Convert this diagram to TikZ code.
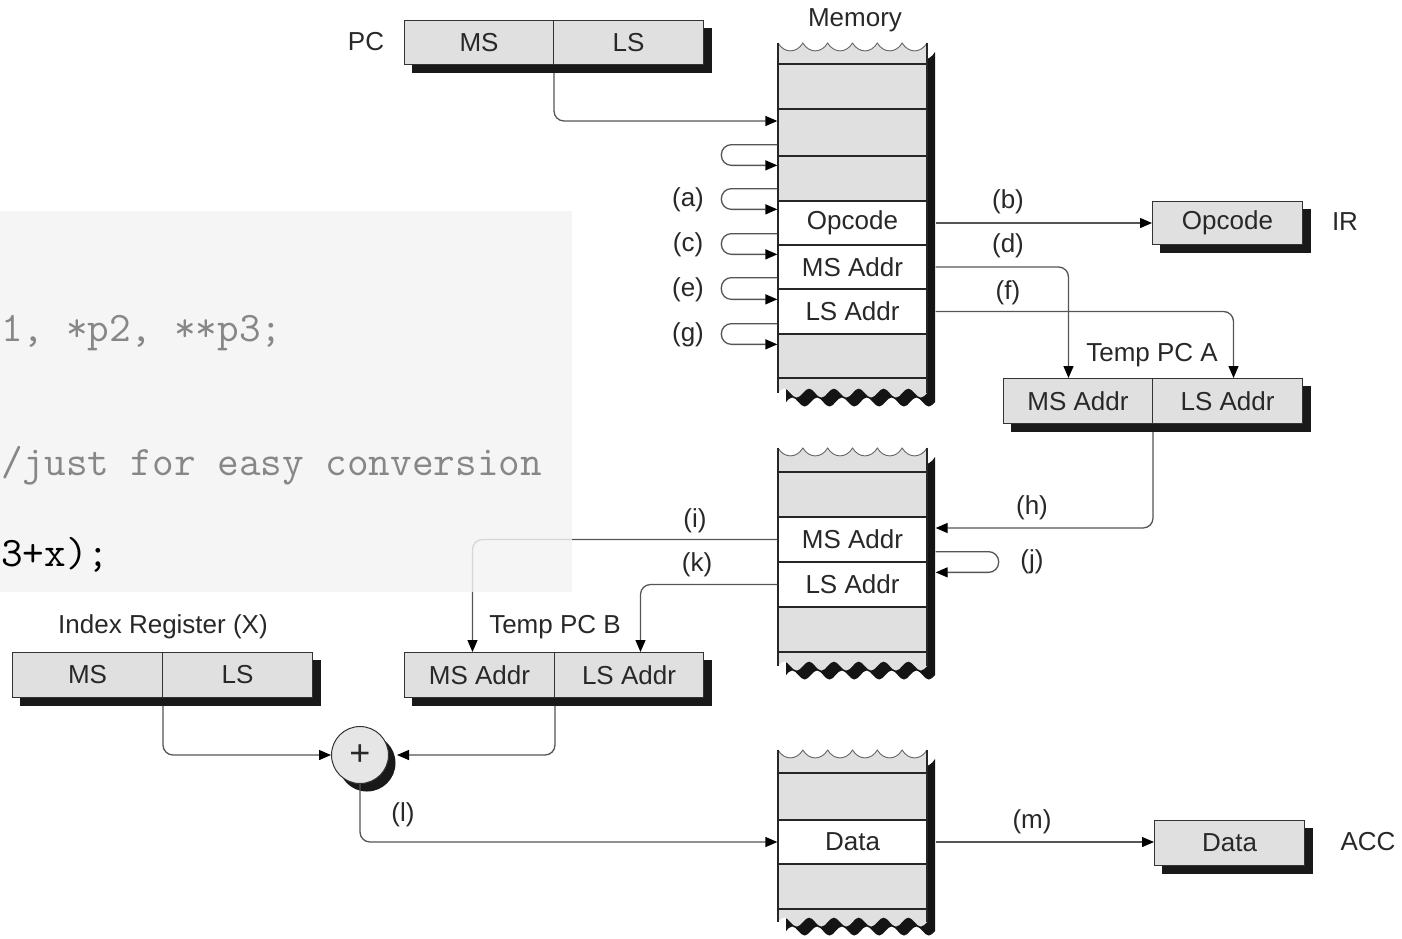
\documentclass[tikz,border=0pt]{standalone}
\usepackage{fontspec}
\setmainfont{Liberation Sans}
\usetikzlibrary{arrows.meta,backgrounds,calc}
\definecolor{cellgray}{RGB}{224,224,224}
\definecolor{linegray}{RGB}{85,85,85}
\definecolor{txt}{RGB}{40,40,40}
\definecolor{codebg}{RGB}{243,243,243}
\definecolor{codegray}{RGB}{135,135,135}

% memory column outline: #1 options, #2 top cusp y, #3 bottom wave centre y
\newcommand{\memshape}[3]{%
  \path[#1] (778,#2) \foreach \i in {1,...,6}{ .. controls +(6.2,10.5) and +(-6.2,10.5) .. ++(24.833,0)}
    -- (927,#3) \foreach \i in {1,...,6}{ sin ++(-6.208,4.5) cos ++(-6.208,-4.5) sin ++(-6.208,-4.5) cos ++(-6.208,4.5)} -- cycle;}
\newcommand{\memtop}[1]{%
  \draw[draw=black!60, line width=0.9pt] (778,#1) \foreach \i in {1,...,6}{ .. controls +(6.2,10.5) and +(-6.2,10.5) .. ++(24.833,0)};}
\newcommand{\memcolumn}[2]{%
  \memshape{fill=black!92, shift={(8,9)}}{#1}{#2}%
  \memshape{fill=cellgray}{#1}{#2}%
  \memtop{#1}%
  \draw[edge] (778,#1) -- (778,#2);
  \draw[edge] (927,#1) -- (927,#2);}

\begin{document}
\begin{tikzpicture}[x=1pt,y=-1pt,
  font=\fontsize{26}{30}\selectfont,
  edge/.style={draw=black!85, line width=1.3pt},
  reg/.style={draw=black!80, line width=1pt, fill=cellgray, minimum height=45pt, inner sep=0pt, text=txt, anchor=north west},
  cell/.style={draw=black!85, line width=1.3pt, minimum width=149pt, inner sep=0pt, text=txt},
  gcell/.style={cell, fill=cellgray},
  wcell/.style={cell, fill=white},
  conn/.style={draw=linegray, line width=1.3pt, rounded corners=10pt, -{Triangle[length=12pt,width=10pt,color=black]}},
  lab/.style={text=txt, inner sep=0pt},
  codetxt/.style={inner sep=0pt, anchor=base west, font=\ttfamily\fontsize{42}{46}\selectfont}
]
\useasboundingbox (0,0) rectangle (1402,938);

% ---------- memory columns ----------
\memcolumn{43}{393}
\node[gcell, minimum height=45pt] (m1a) at (852.5,86.5) {};
\node[gcell, minimum height=47pt] (m1b) at (852.5,132.5) {};
\node[gcell, minimum height=45pt] (m1c) at (852.5,178.5) {};
\node[wcell, minimum height=44pt] (m1op) at (852.5,223) {Opcode};
\node[wcell, minimum height=44pt] (m1ms) at (852.5,267) {MS Addr};
\node[wcell, minimum height=45pt] (m1ls) at (852.5,311.5) {LS Addr};
\node[gcell, minimum height=44pt] (m1d) at (852.5,356) {};

\memcolumn{448}{666}
\node[gcell, minimum height=45pt] (m2a) at (852.5,494.5) {};
\node[wcell, minimum height=45pt] (m2ms) at (852.5,539.5) {MS Addr};
\node[wcell, minimum height=45pt] (m2ls) at (852.5,584.5) {LS Addr};
\node[gcell, minimum height=45pt] (m2b) at (852.5,629.5) {};

\memcolumn{750}{922}
\node[gcell, minimum height=47pt] (m3a) at (852.5,796.5) {};
\node[wcell, minimum height=44pt] (m3data) at (852.5,842) {Data};
\node[gcell, minimum height=45pt] (m3b) at (852.5,886.5) {};

% ---------- registers ----------
\node[reg, minimum width=149pt, minimum height=44pt] (pcms) at (404,20) {MS};
\node[reg, minimum width=150pt, minimum height=44pt] (pcls) at (553,20) {LS};
\node[reg, minimum width=150pt, minimum height=43pt] (ir) at (1152,201) {Opcode};
\node[reg, minimum width=149pt] (tams) at (1003,378) {MS Addr};
\node[reg, minimum width=150pt] (tals) at (1152,378) {LS Addr};
\node[reg, minimum width=150pt] (tbms) at (404,652) {MS Addr};
\node[reg, minimum width=149pt] (tbls) at (554,652) {LS Addr};
\node[reg, minimum width=150pt] (ixms) at (12,652) {MS};
\node[reg, minimum width=150pt] (ixls) at (162,652) {LS};
\node[reg, minimum width=150pt] (acc) at (1154,820) {Data};

\begin{scope}[on background layer]
  \fill[black!90] ($(pcms.north west)+(8,8)$) rectangle ($(pcls.south east)+(8,8)$);
  \fill[black!90] ($(ir.north west)+(8,8)$) rectangle ($(ir.south east)+(8,8)$);
  \fill[black!90] ($(tams.north west)+(8,8)$) rectangle ($(tals.south east)+(8,8)$);
  \fill[black!90] ($(tbms.north west)+(8,8)$) rectangle ($(tbls.south east)+(8,8)$);
  \fill[black!90] ($(ixms.north west)+(8,8)$) rectangle ($(ixls.south east)+(8,8)$);
  \fill[black!90] ($(acc.north west)+(8,8)$) rectangle ($(acc.south east)+(8,8)$);
\end{scope}

% ---------- adder ----------
\fill[black!90] (367,763) circle[radius=28.5pt];
\node[circle, draw=black!80, line width=1pt, fill={rgb,255:red,230;green,230;blue,230}, minimum size=57pt, inner sep=0pt, text=txt, font=\fontsize{36}{36}\selectfont] (add) at (360,755) {+};

% ---------- connectors ----------
\draw[conn] ([yshift=-8pt]pcms.south east) |- ([yshift=11.5pt]m1b.west);
\draw[conn] ([yshift=12pt]m1b.south west) -- ++(-56,0) |- ([yshift=-10pt]m1c.north west);
\draw[conn] ([yshift=13pt]m1c.south west) -- ++(-56,0) |- ([yshift=-9pt]m1op.north west);
\draw[conn] ([yshift=12pt]m1op.south west) -- ++(-56,0) |- ([yshift=-10pt]m1ms.north west);
\draw[conn] ([yshift=12pt]m1ms.south west) -- ++(-56,0) |- ([yshift=-11pt]m1ls.north west);
\draw[conn] ([yshift=11pt]m1ls.south west) -- ++(-56,0) |- ([yshift=-11pt]m1d.north west);

\draw[conn] ([xshift=8pt]m1op.east) -- (ir.west |- m1op.east);
\draw[conn] ([xshift=8pt]m1ms.east) -| ([xshift=-9.5pt]tams.north);
\draw[conn] ([xshift=8pt]m1ls.east) -| ([xshift=6pt]tals.north);

\draw[conn] ([yshift=-8pt]tams.south east) |- ([xshift=8pt,yshift=11.5pt]m2ms.east);
\draw[conn] ([xshift=8pt,yshift=11pt]m2ms.south east) -- ++(63,0) |- ([xshift=8pt,yshift=-11pt]m2ls.north east);

\draw[conn] (m2ms.west) -| ([xshift=-7pt]tbms.north);
\draw[conn] (m2ls.west) -| ([xshift=11.5pt]tbls.north);

\draw[conn] ([yshift=-8pt]ixms.south east) |- (add.west);
\draw[conn] ([yshift=-8pt]tbms.south east) |- ([xshift=8pt]add.east);
\draw[conn] (add.south) |- (m3data.west);
\draw[conn] ([xshift=8pt]m3data.east) -- (acc.west |- m3data.east);

% ---------- code overlay ----------
\fill[codebg, opacity=0.82] (0,211) rectangle (572,592);
\node[codetxt, text=codegray] (code1) at (1,341) {1, *p2, **p3;};
\node[codetxt, text=codegray] (code2) at (1,475) {/just for easy conversion};
\node[codetxt, text=black] (code3) at (1,566) {3+x);};

% ---------- labels ----------
\node[lab] (tmem) at (855,20) {Memory};
\node[lab] (tpc) at (366,42) {PC};
\node[lab] (tir) at (1345,222) {IR};
\node[lab] (ttpa) at (1152,355) {Temp PC A};
\node[lab] (ttpb) at (555,627) {Temp PC B};
\node[lab] (tix) at (163,627) {Index Register (X)};
\node[lab] (tacc) at (1368,842) {ACC};

\node[lab] (la) at (688,200) {(a)};
\node[lab] (lc) at (688,245) {(c)};
\node[lab] (le) at (688,290) {(e)};
\node[lab] (lg) at (688,335) {(g)};
\node[lab] (lb) at (1008,202) {(b)};
\node[lab] (ld) at (1008,246) {(d)};
\node[lab] (lf) at (1008,293) {(f)};
\node[lab] (lh) at (1032,508) {(h)};
\node[lab] (lj) at (1032,562) {(j)};
\node[lab] (li) at (695,521) {(i)};
\node[lab] (lk) at (697,565) {(k)};
\node[lab] (ll) at (403,815) {(l)};
\node[lab] (lm) at (1032,822) {(m)};
\end{tikzpicture}
\end{document}
